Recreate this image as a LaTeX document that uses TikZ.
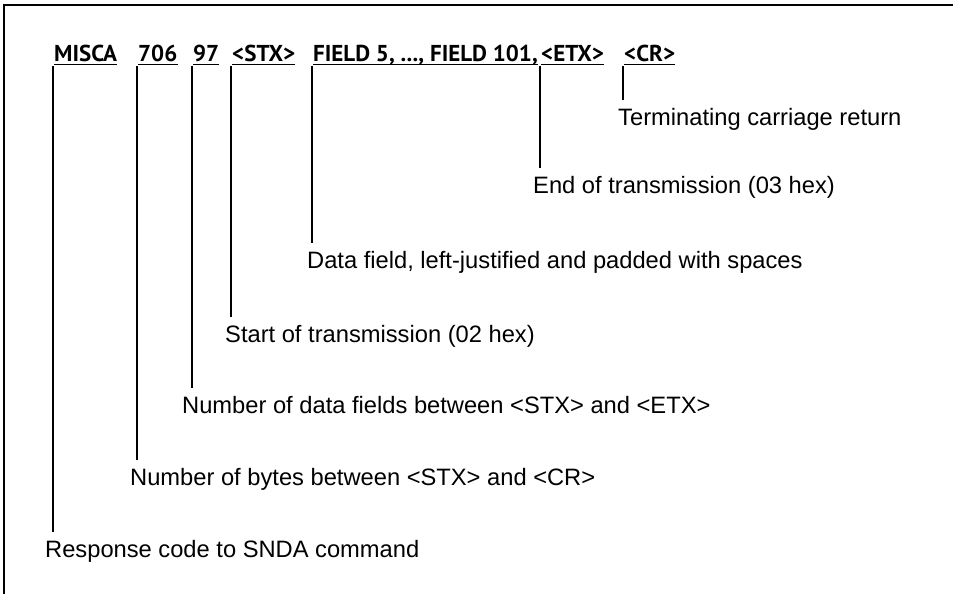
\documentclass[tikz,border=0pt]{standalone}
\usepackage{fontspec}
\setmainfont{Liberation Sans}
\newfontfamily\headfont{PT Sans}
\usetikzlibrary{calc}

\begin{document}
\begin{tikzpicture}[x=1pt,y=-1pt,
   tok/.style={anchor=base west, inner sep=0pt,
               font=\headfont\bfseries\fontsize{23}{27}\selectfont},
   note/.style={anchor=base west, inner xsep=0pt, inner ysep=8pt,
                text height=17pt, text depth=5pt,
                font=\fontsize{23.7}{28}\selectfont},
   lead/.style={draw=black, line width=2pt},
   uline/.style={draw=black, line width=1.5pt},
   frame/.style={draw=black, line width=2.6pt}
]
\useasboundingbox (0,0) rectangle (953,594);
\draw[frame] (4,594) -- (4,5) -- (953,5);

% message tokens
\node[tok] (misca)  at (54,62)  {MISCA};
\node[tok] (n706)   at (138,62) {706};
\node[tok] (n97)    at (193,62) {97};
\node[tok] (stx)    at (232,62) {<STX>};
\node[tok] (fields) at (313,62) {FIELD 5, ..., FIELD 101,};
\node[tok] (etx)    at (541,62) {<ETX>};
\node[tok] (cr)     at (624,62) {<CR>};

% explanations
\node[note] (lcr)    at (618,125) {Terminating carriage return};
\node[note] (letx)   at (533,193) {End of transmission (03 hex)};
\node[note] (lfld)   at (307,268) {Data field, left-justified and padded with spaces};
\node[note] (lstx)   at (225,342) {Start of transmission (02 hex)};
\node[note] (l97)    at (182,413) {Number of data fields between <STX> and <ETX>};
\node[note] (l706)   at (130,485) {Number of bytes between <STX> and <CR>};
\node[note] (lmisca) at (45,557)  {Response code to SNDA command};

\foreach \t/\l in {misca/lmisca,n706/l706,n97/l97,stx/lstx,fields/lfld,etx/letx,cr/lcr}{
  \draw[uline] ($(\t.base west)+(0,2.5)$) -- ($(\t.base east)+(0,2.5)$);
  \coordinate (top) at ($(\t.base west)+(-1,4)$);
  \draw[lead] (top) -- (top |- \l.north);
}
\end{tikzpicture}
\end{document}
